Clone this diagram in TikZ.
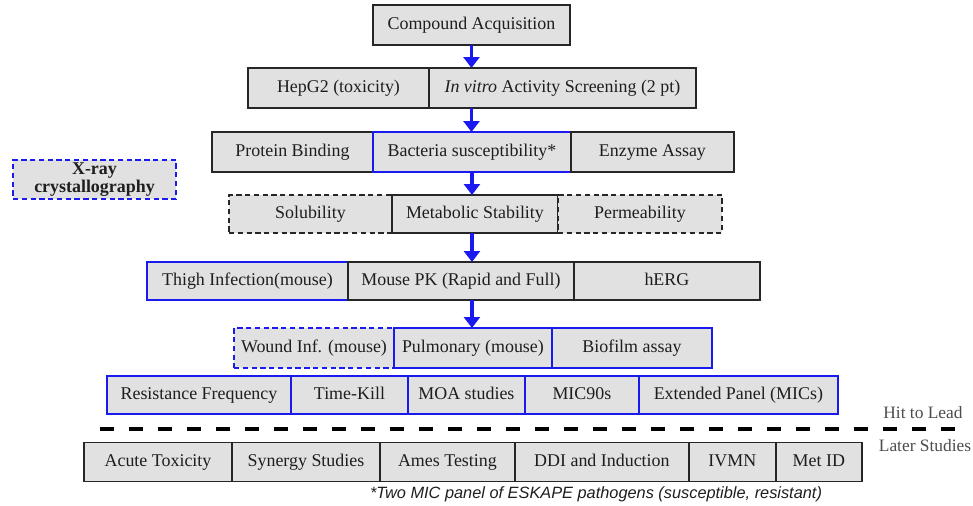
\documentclass[tikz,border=0pt]{standalone}
\usepackage{fontspec}
\setmainfont{Liberation Serif}
\setsansfont{Liberation Sans}
\usetikzlibrary{positioning,arrows.meta}
\definecolor{cellfill}{RGB}{225,225,225}
\definecolor{cellblue}{RGB}{25,25,240}
\definecolor{celltext}{RGB}{30,30,30}

\tikzset{
    cell/.style={draw=black!85, line width=1.1pt, fill=cellfill, text=celltext,
        minimum height=0.78cm, inner sep=0pt, outer sep=0pt,
        text height=0.68em, text depth=0.22em,
        font=\fontsize{10.2}{12}\selectfont},
    bluecell/.style={cell, draw=cellblue, line width=1pt},
    dashcell/.style={cell, dash pattern=on 3pt off 2pt},
    flow/.style={draw=cellblue, line width=1.8pt, -{Triangle[width=0.32cm,length=0.22cm]}},
    cutline/.style={draw=black, line width=2.3pt, dash pattern=on 0.28cm off 0.3cm},
    phase/.style={text=black!70, font=\fontsize{9.9}{12}\selectfont}
}

\begin{document}
\begin{tikzpicture}[x=0.02cm, y=-0.02cm]
    \useasboundingbox (0,0) rectangle (973,506);
    % Define boxes
        \node[cell, anchor=west, minimum width=3.94cm, minimum height=0.8cm] (comp) at (373,25) {Compound Acquisition};

        \node[cell, anchor=west, minimum width=3.62cm, minimum height=0.8cm] (hepg) at (248,88) {HepG2 (toxicity)};
        \node[cell, minimum width=5.34cm, minimum height=0.8cm, right=0pt of hepg] (invitro) {\textit{In vitro} Activity Screening (2 pt)};

        \node[cell, anchor=west, minimum width=3.22cm, minimum height=0.8cm] (protein) at (212,152) {Protein Binding};
        \node[bluecell, minimum width=3.96cm, minimum height=0.8cm, right=0pt of protein] (bact) {Bacteria susceptibility*};
        \node[cell, minimum width=3.26cm, minimum height=0.8cm, right=0pt of bact] (enzyme) {Enzyme Assay};

        \node[bluecell, dash pattern=on 3pt off 2pt, anchor=west, minimum width=3.26cm, align=center,
            text height=, text depth=,
            font=\fontsize{10.2}{10.5}\selectfont\bfseries] (xray) at (13,179.5) {X-ray\\crystallography};

        \node[dashcell, anchor=west, minimum width=3.26cm, minimum height=0.76cm] (solub) at (229,214) {Solubility};
        \node[cell, minimum width=3.32cm, minimum height=0.76cm, right=0pt of solub] (metab) {Metabolic Stability};
        \node[dashcell, minimum width=3.28cm, minimum height=0.76cm, right=0pt of metab] (perm) {Permeability};

        \node[bluecell, anchor=west, minimum width=4.02cm, minimum height=0.76cm] (thigh) at (147,281) {Thigh Infection(mouse)};
        \node[cell, minimum width=4.52cm, minimum height=0.76cm, right=0pt of thigh] (mousepk) {Mouse PK (Rapid and Full)};
        \node[cell, minimum width=3.72cm, minimum height=0.76cm, right=0pt of mousepk] (herg) {hERG};

        \node[bluecell, dash pattern=on 3pt off 2pt, anchor=west, minimum width=3.2cm, minimum height=0.8cm] (wound) at (234,348) {Wound Inf. (mouse)};
        \node[bluecell, minimum width=3.16cm, minimum height=0.8cm, right=0pt of wound] (pulm) {Pulmonary (mouse)};
        \node[bluecell, minimum width=3.2cm, minimum height=0.8cm, right=0pt of pulm] (biofilm) {Biofilm assay};

        \node[bluecell, anchor=west, minimum width=3.68cm, minimum height=0.76cm] (resist) at (107,395) {Resistance Frequency};
        \node[bluecell, minimum width=2.34cm, minimum height=0.76cm, right=0pt of resist] (timekill) {Time-Kill};
        \node[bluecell, minimum width=2.34cm, minimum height=0.76cm, right=0pt of timekill] (moa) {MOA studies};
        \node[bluecell, minimum width=2.28cm, minimum height=0.76cm, right=0pt of moa] (mic) {MIC90s};
        \node[bluecell, minimum width=3.98cm, minimum height=0.76cm, right=0pt of mic] (extended) {Extended Panel (MICs)};

        \node[cell, anchor=west, minimum width=2.96cm] (acute) at (84,462) {Acute Toxicity};
        \node[cell, minimum width=2.96cm, right=0pt of acute] (synergy) {Synergy Studies};
        \node[cell, minimum width=2.7cm, right=0pt of synergy] (ames) {Ames Testing};
        \node[cell, minimum width=3.48cm, right=0pt of ames] (ddi) {DDI and Induction};
        \node[cell, minimum width=1.74cm, right=0pt of ddi] (ivmn) {IVMN};
        \node[cell, minimum width=1.72cm, right=0pt of ivmn] (metid) {Met ID};

        % Phase divider
        \coordinate (cutL) at (100,429);
        \coordinate (cutR) at (964,429);
        \draw[cutline] (cutL) -- (cutR);
        \node[phase] (hit) at (923,413) {Hit to Lead};
        \node[phase] (later) at (925,446) {Later Studies};

        \node[font=\sffamily\itshape\fontsize{9.3}{11}\selectfont, text=celltext] (note) at (596,494)
            {*Two MIC panel of ESKAPE pathogens (susceptible, resistant)};

        % Draw arrows
        \draw[flow] (comp.south) -- (comp.south |- invitro.north);
        \draw[flow] (comp.south |- invitro.south) -- (comp.south |- bact.north);
        \draw[flow] (bact.south) -- (bact.south |- metab.north);
        \draw[flow] (bact.south |- metab.south) -- (bact.south |- mousepk.north);
        \draw[flow] (bact.south |- mousepk.south) -- (bact.south |- pulm.north);
    \end{tikzpicture}
\end{document}
